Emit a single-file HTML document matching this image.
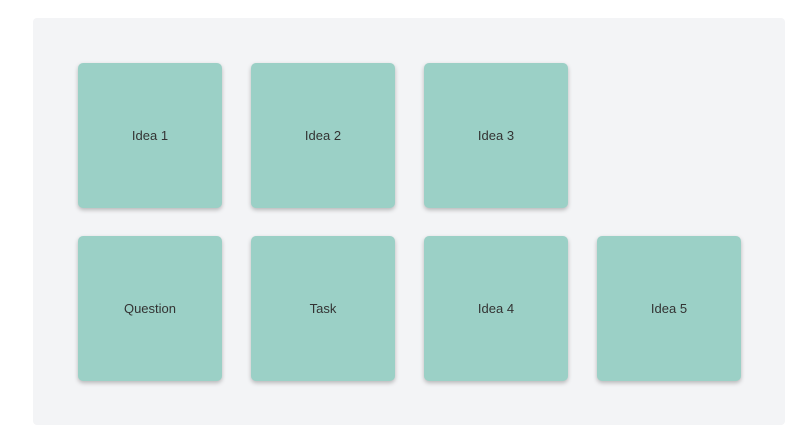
<!DOCTYPE html>
<html><head><style>
body{margin:0;width:807px;height:447px;background:#fff;position:relative;overflow:hidden;font-family:"Liberation Sans",sans-serif}
.panel{position:absolute;left:33px;top:18px;width:752px;height:407px;background:#f3f4f6;border-radius:4px}
.c{position:absolute;width:144px;height:145px;background:#9bd0c6;border-radius:5px;box-shadow:0 2px 4px rgba(0,0,0,0.25);display:flex;align-items:center;justify-content:center;font-size:13px;color:#333}
</style></head><body>
<div class="panel"></div>
<div class="c" style="left:78px;top:63px">Idea 1</div>
<div class="c" style="left:251px;top:63px">Idea 2</div>
<div class="c" style="left:424px;top:63px">Idea 3</div>
<div class="c" style="left:78px;top:236px">Question</div>
<div class="c" style="left:251px;top:236px">Task</div>
<div class="c" style="left:424px;top:236px">Idea 4</div>
<div class="c" style="left:597px;top:236px">Idea 5</div>
</body></html>
